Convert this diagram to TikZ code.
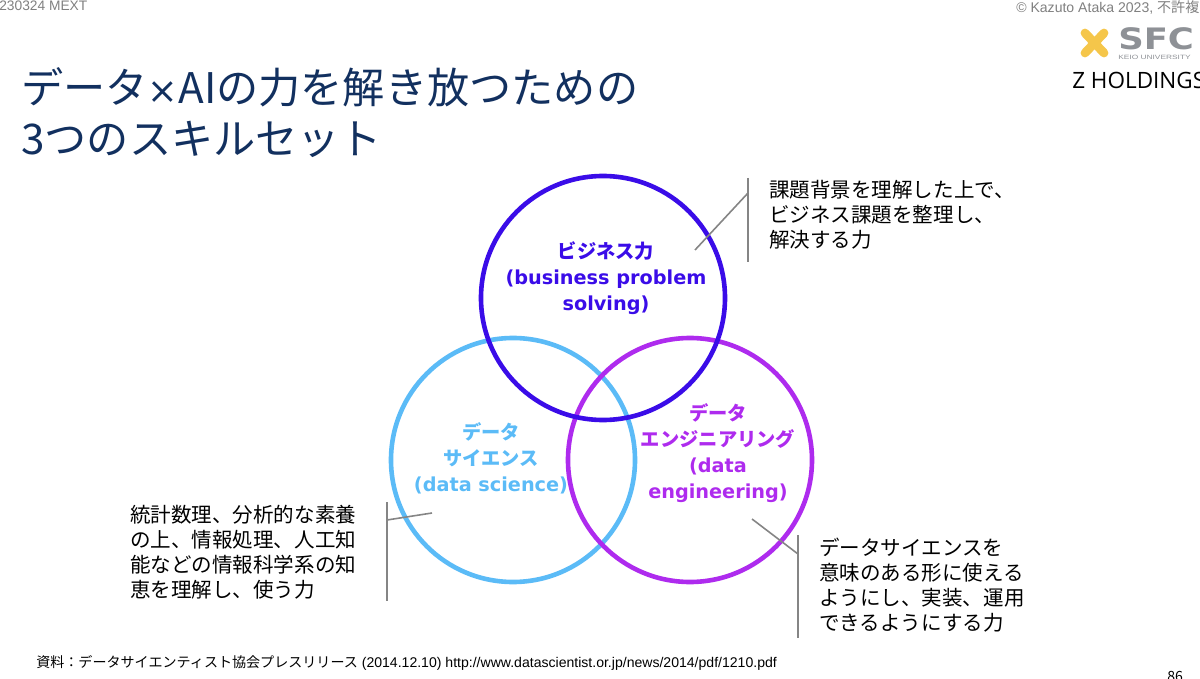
\documentclass[tikz,border=0pt]{standalone}
\usepackage{fontspec}
\usepackage{amsmath}
\setmainfont{Liberation Sans}
\newfontfamily\cjk{Noto Sans CJK JP}
\newfontfamily\verd{DejaVu Sans}
\newfontfamily\zfont{Open Sans}
\usetikzlibrary{positioning}
\definecolor{titleblue}{HTML}{12305F}
\definecolor{bizblue}{HTML}{3A0CE8}
\definecolor{sciblue}{HTML}{5BBBF7}
\definecolor{engpurple}{HTML}{AE2BEE}
\definecolor{linegray}{HTML}{858585}
\definecolor{logoyellow}{HTML}{F5C64A}
\definecolor{logogray}{HTML}{8E9196}

\begin{document}
\begin{tikzpicture}[
	x=0.25mm, y=-0.25mm,
	skillring/.style={circle, draw=#1, line width=1.15mm, minimum size=61mm, inner sep=0pt},
	skilllabel/.style={align=center, font=\verd\bfseries\fontsize{13.7}{18.5}\selectfont, text=#1},
	notetext/.style={align=left, anchor=north west, inner sep=0pt, text=black, font=\cjk\fontsize{14.6}{17.7}\selectfont},
	tickline/.style={draw=linegray, line width=0.4mm},
	headtext/.style={inner sep=0pt, text=gray},
	]
	\useasboundingbox (0,0) rectangle (1200,679);
	\clip (0,0) rectangle (1200,679);

	% header and title
	\node[headtext, anchor=west, font=\fontsize{9.8}{11}\selectfont] (meeting) at (-1,6) {230324 MEXT};
	\node[headtext, anchor=west, font=\fontsize{10}{12}\selectfont] (copyright) at (1016,7) {© Kazuto Ataka 2023, {\cjk 不許複製}};
	\node[anchor=north west, inner sep=0pt, align=left, text=titleblue,
	font=\cjk\fontsize{30}{36.5}\selectfont] (title) at (21,67)
	{データ{\verd\fontsize{26}{26}\selectfont ×}AIの力を解き放つための\\3つのスキルセット};

	% logos
	\draw[logoyellow, line width=2.2mm, line cap=round] (1085,33) -- (1104,53);
	\draw[logoyellow, line width=2.2mm, line cap=round] (1104,33) -- (1085,53);
	\node[anchor=west, inner sep=0pt, text=logogray, font=\verd\bfseries\fontsize{21}{21}\selectfont] (sfc) at (1118,38.5) {\scalebox{1.2}[1]{SFC}};
	\node[anchor=west, inner sep=0pt, text=logogray, font=\fontsize{4.4}{4.4}\selectfont] (keio) at (1118,57) {\scalebox{1.35}[1]{KEIO UNIVERSITY}};
	\node[anchor=west, inner sep=0pt, text=black, font=\zfont\fontsize{16}{18}\selectfont] (zhd) at (1072,80) {Z HOLDINGS};

	% rings
	\node[skillring=sciblue] (sci) at (513,460) {};
	\node[skillring=engpurple] (eng) at (690,460) {};
	\node[skillring=bizblue] (biz) at (603,298) {};

	\node[skilllabel=bizblue] (bizlabel) at (606,278) {{\cjk\bfseries ビジネス力}\\(business problem\\solving)};
	\node[skilllabel=sciblue] (scilabel) at (491,458) {{\cjk\bfseries データ}\\{\cjk\bfseries サイエンス}\\(data science)};
	\node[skilllabel=engpurple] (englabel) at (718,453) {{\cjk\bfseries データ}\\{\cjk\bfseries エンジニアリング}\\(data\\engineering)};

	% notes
	\node[notetext] (bizdesc) at (769,180) {課題背景を理解した上で、\\ビジネス課題を整理し、\\解決する力};
	\node[notetext] (scidesc) at (130,505) {統計数理、分析的な素養\\の上、情報処理、人工知\\能などの情報科学系の知\\恵を理解し、使う力};
	\node[notetext] (engdesc) at (819,538) {データサイエンスを\\意味のある形に使える\\ようにし、実装、運用\\できるようにする力};

	% brackets
	\coordinate (bt) at (748,178);
	\coordinate (bb) at (748,262);
	\coordinate (bm) at (748,193);
	\coordinate (be) at (695,250);
	\coordinate (st) at (387,502);
	\coordinate (sb) at (387,601);
	\coordinate (sm) at (387,520);
	\coordinate (se) at (432,513);
	\coordinate (et) at (798,535);
	\coordinate (eb) at (798,638);
	\coordinate (em) at (798,554);
	\coordinate (ee) at (752,519);
	\draw[tickline] (bt) -- (bb);
	\draw[tickline] (bm) -- (be);
	\draw[tickline] (st) -- (sb);
	\draw[tickline] (sm) -- (se);
	\draw[tickline] (et) -- (eb);
	\draw[tickline] (em) -- (ee);

	% footer
	\node[anchor=west, inner sep=0pt, text=black, font=\fontsize{10}{11}\selectfont] (source) at (36,663)
	{{\cjk 資料：データサイエンティスト協会プレスリリース} (2014.12.10) http://www.datascientist.or.jp/news/2014/pdf/1210.pdf};
	\node[anchor=west, inner sep=0pt, text=black, font=\cjk\fontsize{10}{11}\selectfont] (page) at (1167,676) {86};
\end{tikzpicture}
\end{document}
